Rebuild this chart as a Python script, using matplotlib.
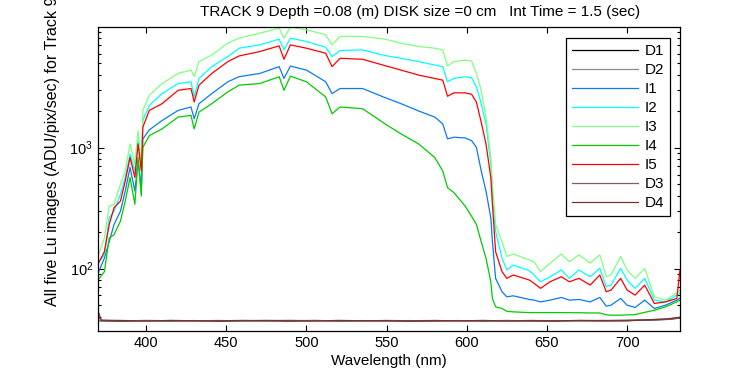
import matplotlib
matplotlib.use("Agg")
import matplotlib.pyplot as plt
from matplotlib.ticker import LogLocator, NullFormatter, FixedLocator

plt.rcParams['font.family'] = ['Liberation Sans', 'DejaVu Sans']
plt.rcParams['mathtext.fontset'] = 'custom'
plt.rcParams['mathtext.rm'] = 'Liberation Sans'
plt.rcParams['mathtext.it'] = 'Liberation Sans:italic'

title = "TRACK 9 Depth =0.08 (m) DISK size =0 cm   Int Time = 1.5 (sec)"
xlabel = "Wavelength (nm)"
ylabel = "All five Lu images (ADU/pix/sec) for Track 9"

wl = [370, 374, 377, 380, 384, 387, 390, 393, 395, 397,
      398, 402, 410, 420, 428, 430, 433, 441, 451, 458,
      471, 483, 486, 490, 500, 512, 516, 521, 535, 549,
      559, 570, 580, 585, 588, 592, 599, 603, 606, 609,
      612, 615, 616, 618, 622, 625, 629, 639, 642, 646,
      652, 659, 664, 670, 677, 683, 687, 690, 696, 700,
      705, 711, 717, 724, 731, 733]

I3 = [126, 179, 329, 340, 498, 644, 1074, 731, 1385, 731,
      2034, 2712, 3395, 4113, 4382, 3861, 5148, 5844, 7313, 8050,
      8858, 9750, 8050, 9939, 9438, 8574, 7079, 8315, 8315, 7897,
      7313, 6865, 6645, 6432, 4732, 5148, 5309, 5208, 4113, 2985,
      1792, 831, 498, 232, 167, 126, 132, 118, 114, 94.4,
      111, 132, 114, 130, 111, 130, 85.7, 88.6, 126, 97.5,
      83.1, 100.6, 58.5, 54.9, 63.1, 66.5]

I2 = [111, 130, 263, 298, 412, 567, 886, 644, 1144, 687,
      1679, 2238, 2802, 3395, 3508, 2630, 3737, 4678, 5667, 6645,
      7079, 7897, 6432, 8050, 7556, 6773, 5667, 6358, 6432, 5776,
      5485, 5148, 4824, 4678, 3508, 3737, 3861, 3787, 3187, 2312,
      1575, 731, 386, 203, 122, 97.5, 107, 96.2, 88.6, 77.9,
      85.7, 97.5, 83.1, 97.5, 85.7, 100.6, 70.8, 73.1, 100.6, 80.5,
      68.7, 83.1, 54.9, 53.1, 60.4, 62.8]

I5 = [109, 138, 232, 319, 362, 530, 831, 567, 1074, 644,
      1479, 2034, 2312, 2985, 3084, 2389, 3286, 4113, 5148, 5733,
      6237, 6945, 5381, 7079, 6645, 6037, 4678, 5485, 5381, 4768,
      4382, 3981, 3737, 3617, 2661, 2840, 2840, 2764, 2389, 1628,
      1074, 567, 340, 138, 94.4, 83.1, 88.6, 80.5, 75.6, 68.7,
      77.9, 85.7, 77.9, 83.1, 73.1, 88.6, 64.4, 66.5, 83.1, 66.5,
      60.4, 73.1, 51.5, 53.1, 56.7, 97.5]

I1 = [91.5, 122, 167, 232, 298, 438, 687, 438, 779, 467,
      1182, 1404, 1679, 2034, 2170, 1734, 2312, 2802, 3508, 3861,
      4113, 4678, 3737, 4732, 4382, 3508, 2802, 3084, 3084, 2595,
      2312, 2010, 1792, 1575, 1182, 1221, 1204, 1144, 1008, 644,
      438, 263, 167, 83.1, 64.4, 58.5, 59.6, 55.6, 54.9, 53.1,
      54.9, 57.8, 54.9, 55.6, 53.1, 57.8, 48.9, 49.9, 56.7, 49.9,
      47.7, 54.9, 46.8, 49.9, 54.9, 57]

I4 = [80.5, 94.4, 179, 191, 247, 362, 567, 340, 831, 398,
      1008, 1258, 1431, 1792, 1848, 1431, 1972, 2312, 2895, 3286,
      3395, 3861, 2985, 3905, 3508, 2630, 1909, 2170, 2101, 1575,
      1300, 1074, 831, 644, 467, 425, 329, 271, 232, 167,
      122, 77.9, 56.7, 48.3, 46.8, 44.4, 43.9, 43.3, 43.3, 43.3,
      43.3, 43.3, 43.2, 43.2, 43.0, 43.0, 41.5, 41.2, 41.2, 41.4,
      41.7, 43.5, 45.3, 48.3, 53.1, 54.9]

dk_wl = [370, 372, 385, 400, 415, 430, 445, 460, 475, 490, 505, 520, 535, 550,
         565, 580, 595, 610, 625, 640, 655, 670, 685, 700, 715, 725, 733]
D1 = [37.2, 37.0, 36.8, 37.1, 36.9, 37.2, 36.8, 37.0, 37.1, 36.9, 37.2, 36.9, 37.0, 37.1,
      36.8, 37.0, 37.2, 36.9, 37.1, 37.0, 36.9, 37.2, 37.1, 37.3, 37.6, 38.0, 39.0]
D2 = [37.4, 37.1, 37.3, 36.9, 37.2, 37.0, 37.3, 36.9, 37.2, 37.4, 37.0, 37.2, 36.8, 37.3,
      37.1, 37.3, 36.9, 37.2, 37.0, 37.3, 37.1, 37.0, 37.3, 37.5, 37.8, 38.3, 39.4]
D3 = [40.5, 37.3, 37.0, 37.3, 37.1, 36.9, 37.1, 37.3, 36.9, 37.1, 37.3, 37.0, 37.2, 36.9,
      37.2, 36.9, 37.1, 37.0, 37.3, 36.9, 37.2, 37.1, 36.9, 37.2, 37.7, 38.1, 39.2]
D4 = [45.0, 37.5, 37.2, 36.9, 37.3, 37.1, 37.0, 37.2, 37.3, 37.0, 36.9, 37.3, 37.1, 37.2,
      36.9, 37.2, 37.0, 37.3, 36.9, 37.2, 37.0, 37.3, 37.2, 37.0, 37.9, 38.4, 39.6]

series = [("D1", dk_wl, D1, "#000000"),
          ("D2", dk_wl, D2, "#8c8c8c"),
          ("I1", wl, I1, "#0a7af5"),
          ("I2", wl, I2, "#00ffff"),
          ("I3", wl, I3, "#80ff80"),
          ("I4", wl, I4, "#00cc00"),
          ("I5", wl, I5, "#ff0000"),
          ("D3", dk_wl, D3, "#7f5f5f"),
          ("D4", dk_wl, D4, "#7f3030")]

fig = plt.figure(figsize=(7.5, 3.75), dpi=100)
fig.patch.set_facecolor("white")
ax = fig.add_axes([98/750, 44/375, 582/750, 304/375])

for name, x, y, c in series:
    ax.plot(x, y, color=c, lw=0.9, label=name)

ax.set_yscale("log")
ax.set_xlim(370, 733)
ax.set_ylim(30.5, 9950)
ax.xaxis.set_major_locator(FixedLocator([400, 450, 500, 550, 600, 650, 700]))
ax.yaxis.set_major_locator(LogLocator(base=10))
ax.yaxis.set_minor_locator(LogLocator(base=10, subs=range(2, 10)))
ax.yaxis.set_minor_formatter(NullFormatter())
ax.tick_params(which="both", direction="in", top=True, right=True, labelsize=10.5, colors="black")
ax.tick_params(which="major", length=4.5, width=0.8)
ax.tick_params(which="minor", length=2.5, width=0.8)
ax.tick_params(axis="x", which="major", length=4)
for s in ax.spines.values():
    s.set_linewidth(0.9)
    s.set_color("black")

ax.set_xlabel(xlabel, fontsize=11, labelpad=3)
fig.text(420/750, 1 - 12/375, title, ha="center", va="center", fontsize=11)
fig.text(53/750, 1 - 151/375, ylabel, ha="center", va="center", rotation=90, fontsize=11.5)

leg = ax.legend(loc="upper right", bbox_to_anchor=(0.983, 0.964), borderaxespad=0,
                fontsize=11, handlelength=4.3, handletextpad=0.45, labelspacing=0.33,
                fancybox=False, framealpha=1, edgecolor="black", borderpad=0.4)
leg.get_frame().set_linewidth(0.9)

fig.savefig("out.png", dpi=100, facecolor="white")
